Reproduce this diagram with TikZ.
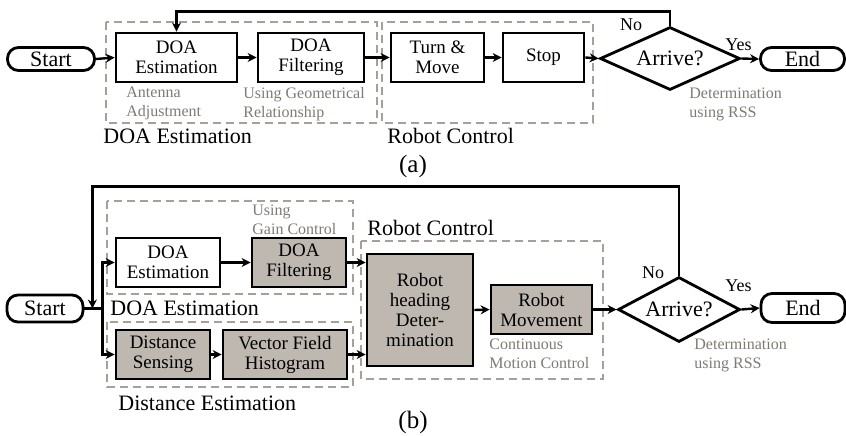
\documentclass[tikz,border=0pt]{standalone}
\usepackage{fontspec}
\setmainfont{Liberation Serif}
\newfontfamily\figfont{Liberation Serif}
\usepackage{tikz}
\usetikzlibrary{positioning, calc, arrows.meta, shapes}
\definecolor{boxgray}{RGB}{190,184,177}
\definecolor{dashgray}{RGB}{168,160,152}
\definecolor{notegray}{RGB}{128,122,116}
\tikzset{procbox/.style={draw, line width=1.4pt, align=center, inner sep=0pt, font=\figfont\fontsize{9.5}{10}\selectfont}}
\tikzset{shadebox/.style={procbox, fill=boxgray}}
\tikzset{terminal/.style={draw, line width=1.4pt, rounded corners=5.5pt, inner sep=0pt, font=\figfont\fontsize{11}{12}\selectfont}}
\tikzset{decision/.style={draw, diamond, line width=1.4pt, inner sep=0pt, font=\figfont\fontsize{11}{12}\selectfont}}
\tikzset{groupbox/.style={draw=dashgray, dash pattern=on 4pt off 2.5pt, line width=1.3pt}}
\tikzset{note/.style={text=notegray, align=left, inner sep=0pt, font=\figfont\fontsize{8}{9.5}\selectfont}}
\tikzset{grouplabel/.style={inner sep=0pt, font=\figfont\fontsize{11}{12}\selectfont}}
\tikzset{small/.style={inner sep=0pt, font=\figfont\fontsize{9}{10}\selectfont}}
\tikzset{flow/.style={-{Stealth[length=4.5pt,width=4.5pt]}, line width=1.2pt}}

\begin{document}
\begin{tikzpicture}[x=0.5pt, y=-0.5pt]
  \useasboundingbox (0,0) rectangle (846,435);

  %% (a)
  \draw[groupbox] (106,22) rectangle (377,123);
  \draw[groupbox] (382,22) rectangle (593,123);

  \node[terminal, minimum width=43.5pt, minimum height=11.5pt] (startA) at (51,59) {Start};
  \node[procbox, minimum width=60.5pt, minimum height=24.5pt] (doaestA) at (176.5,57.5) {DOA\\Estimation};
  \node[procbox, minimum width=53pt, minimum height=24.5pt] (doafiltA) at (311,57.5) {DOA\\Filtering};
  \node[procbox, minimum width=46.5pt, minimum height=24.5pt] (turnA) at (437.5,57.5) {Turn \&\\Move};
  \node[procbox, minimum width=40.5pt, minimum height=24.5pt] (stopA) at (543.5,57.5) {Stop};
  \node[decision, aspect=2.22, minimum width=70pt, minimum height=31.5pt] (arriveA) at (670,58.5) {Arrive?};
  \node[terminal, minimum width=42pt, minimum height=11.5pt] (endA) at (802.5,59) {End};

  \draw[flow] (startA.east) -- (doaestA.west);
  \draw[flow] (doaestA.east) -- (doafiltA.west);
  \draw[flow] (doafiltA.east) -- (turnA.west);
  \draw[flow] (turnA.east) -- (stopA.west);
  \draw[flow] (stopA.east) -- (arriveA.west);
  \draw[flow] (arriveA.east) -- (endA.west);
  \draw[flow] (arriveA.north) -- ++(0,-14) -| (doaestA.north);

  \node[note, anchor=north west] (antA) at (126,87) {Antenna\\Adjustment};
  \node[note, anchor=north west] (geoA) at (243,87) {Using Geometrical\\Relationship};
  \node[note, anchor=north west] (rssA) at (689,87) {Determination\\using RSS};
  \node[grouplabel, anchor=base west] (doalabA) at (103,143) {DOA Estimation};
  \node[grouplabel, anchor=base west] (roblabA) at (387,143) {Robot Control};
  \node[small, anchor=base] (noA) at (631,30) {No};
  \node[small, anchor=base] (yesA) at (738.5,50) {Yes};
  \node[inner sep=0pt, font=\figfont\fontsize{12.5}{13}\selectfont, anchor=base] (capA) at (413,172) {(a)};

  %% (b)
  \draw[groupbox] (107,201) rectangle (353,294);
  \draw[groupbox] (107,322) rectangle (353,387);
  \draw[groupbox] (361,241) rectangle (603,379);

  \node[terminal, minimum width=38pt, minimum height=13.5pt] (startB) at (45,308.5) {Start};
  \node[procbox, minimum width=52pt, minimum height=24.5pt] (doaestB) at (168,262.5) {DOA\\Estimation};
  \node[shadebox, minimum width=47pt, minimum height=24.5pt] (doafiltB) at (299,262.5) {DOA\\Filtering};
  \node[shadebox, minimum width=47pt, minimum height=24.5pt] (distB) at (163,354.5) {Distance\\Sensing};
  \node[shadebox, minimum width=62pt, minimum height=24.5pt] (vfhB) at (285,354.5) {Vector Field\\Histogram};
  \node[shadebox, minimum width=53pt, minimum height=56pt] (headB) at (420,310) {Robot\\heading\\Deter-\\mination};
  \node[shadebox, minimum width=50.5pt, minimum height=24.5pt] (moveB) at (541.5,309.5) {Robot\\Movement};
  \node[decision, aspect=1.88, minimum width=61pt, minimum height=32.5pt] (arriveB) at (679,309.5) {Arrive?};
  \node[terminal, minimum width=42pt, minimum height=14.5pt] (endB) at (803,308) {End};

  \coordinate (fbB) at ($(startB.east)+(8,0)$);
  \coordinate (forkB) at ($(startB.east)+(18,0)$);
  \draw[line width=1.2pt] (startB.east) -- (forkB);
  \draw[flow] (forkB) |- (doaestB.west);
  \draw[flow] (forkB) |- (distB.west);
  \draw[flow] (doaestB.east) -- (doafiltB.west);
  \draw[flow] (distB.east) -- (vfhB.west);
  \draw[flow] (doafiltB.east) -- (doafiltB.east -| headB.west);
  \draw[flow] (vfhB.east) -- (vfhB.east -| headB.west);
  \draw[flow] (headB.east) -- (moveB.west);
  \draw[flow] (moveB.east) -- (arriveB.west);
  \draw[flow] (arriveB.east) -- (endB.west);
  \draw[flow] (arriveB.north) -- ++(0,-89) -| (fbB);

  \node[note, anchor=north west] (gainB) at (252,204) {Using\\Gain Control};
  \node[note, anchor=north west] (motionB) at (489,338) {Continuous\\Motion Control};
  \node[note, anchor=north west] (rssB) at (694,338) {Determination\\using RSS};
  \node[grouplabel, anchor=base west] (roblabB) at (367,235) {Robot Control};
  \node[grouplabel, anchor=base west] (doalabB) at (110,315) {DOA Estimation};
  \node[grouplabel, anchor=base west] (distlabB) at (118,410) {Distance Estimation};
  \node[small, anchor=base] (noB) at (653,278) {No};
  \node[small, anchor=base] (yesB) at (738.5,291) {Yes};
  \node[inner sep=0pt, font=\figfont\fontsize{12.5}{13}\selectfont, anchor=base] (capB) at (413,428) {(b)};
\end{tikzpicture}
\end{document}
